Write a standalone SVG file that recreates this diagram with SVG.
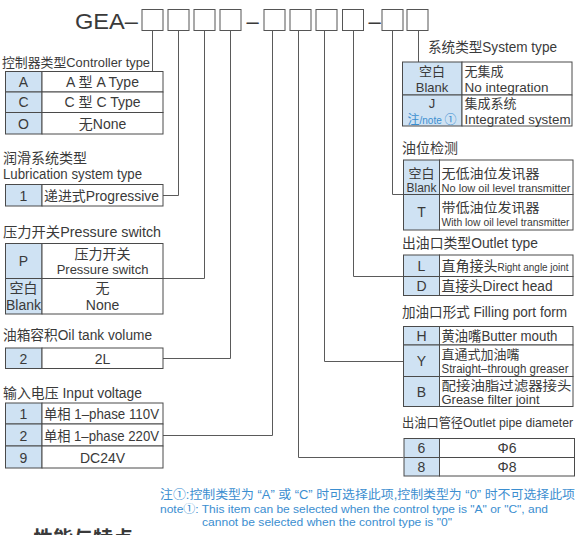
<svg xmlns="http://www.w3.org/2000/svg" width="586" height="535" viewBox="0 0 586 535">
<style>
.t{font-family:"Liberation Sans","Noto Sans CJK SC",sans-serif;fill:#3a3a3a;font-size:14px}
.c{text-anchor:middle}
.s12{font-size:12px}
.s11{font-size:11px}
.s13{font-size:13px}
.b{fill:#3b8ed0}
.code{fill:#cfe2f3;stroke:#4a4a4a;stroke-width:1}
.desc{fill:#fff;stroke:#4a4a4a;stroke-width:1}
.box{fill:#fff;stroke:#555;stroke-width:1}
.ln{fill:none;stroke:#5a5a5a;stroke-width:1}
</style>
<rect width="586" height="535" fill="#fff"/>

<g id="header">
<text class="t" x="75" y="29" style="font-size:22px" textLength="63" lengthAdjust="spacingAndGlyphs">GEA–</text>
<rect class="box" x="142" y="9.5" width="21" height="21"/>
<rect class="box" x="168" y="9.5" width="21" height="21"/>
<rect class="box" x="194" y="9.5" width="21" height="21"/>
<rect class="box" x="220" y="9.5" width="21" height="21"/>
<text class="t c" x="252.5" y="29" style="font-size:22px">–</text>
<rect class="box" x="264" y="9.5" width="21" height="21"/>
<rect class="box" x="290" y="9.5" width="21" height="21"/>
<rect class="box" x="316" y="9.5" width="21" height="21"/>
<rect class="box" x="342.5" y="9.5" width="21" height="21"/>
<text class="t c" x="374.5" y="29" style="font-size:22px">–</text>
<rect class="box" x="382" y="9.5" width="21" height="21"/>
<rect class="box" x="407" y="9.5" width="21" height="21"/>
</g>

<g id="connectors">
<path class="ln" d="M152.5,30.5 V71"/>
<path class="ln" d="M178.5,30.5 V195.5 H163"/>
<path class="ln" d="M204.5,30.5 V278.5 H163"/>
<path class="ln" d="M230.5,30.5 V358.5 H163"/>
<path class="ln" d="M272.5,30.5 V435.5 H163"/>
<path class="ln" d="M298.5,30.5 V457.5 H403"/>
<path class="ln" d="M324.5,30.5 V361.5 H403"/>
<path class="ln" d="M353.5,30.5 V276.5 H403"/>
<path class="ln" d="M392.5,30.5 V194.5 H403"/>
<path class="ln" d="M418.5,30.5 V62"/>
</g>

<g id="controller-type">
<text class="t s13" x="2" y="66.5" textLength="148" lengthAdjust="spacingAndGlyphs">控制器类型Controller type</text>
<rect class="code" x="5.5" y="71.5" width="36.5" height="20.5"/>
<rect class="desc" x="42" y="71.5" width="121" height="20.5"/>
<rect class="code" x="5.5" y="92" width="36.5" height="20.5"/>
<rect class="desc" x="42" y="92" width="121" height="20.5"/>
<rect class="code" x="5.5" y="112.5" width="36.5" height="21.5"/>
<rect class="desc" x="42" y="112.5" width="121" height="21.5"/>
<text class="t c" x="23.5" y="86.5">A</text>
<text class="t c" x="102.5" y="86.5">A 型 A Type</text>
<text class="t c" x="23.5" y="107">C</text>
<text class="t c" x="102.5" y="107">C 型 C Type</text>
<text class="t c" x="23.5" y="128.5">O</text>
<text class="t c" x="102.5" y="128.5">无None</text>
</g>

<g id="lubrication-system-type">
<text class="t" x="3" y="163">润滑系统类型</text>
<text class="t" x="3" y="178.5" textLength="139" lengthAdjust="spacingAndGlyphs">Lubrication system type</text>
<rect class="code" x="5.5" y="184.5" width="36.5" height="21.5"/>
<rect class="desc" x="42" y="184.5" width="121" height="21.5"/>
<text class="t c" x="23.5" y="200.5">1</text>
<text class="t" x="44" y="200.5" textLength="115" lengthAdjust="spacingAndGlyphs">递进式Progressive</text>
</g>

<g id="pressure-switch">
<text class="t" x="3" y="237" textLength="158" lengthAdjust="spacingAndGlyphs">压力开关Pressure switch</text>
<rect class="code" x="5.5" y="243.5" width="36.5" height="35"/>
<rect class="desc" x="42" y="243.5" width="121" height="35"/>
<rect class="code" x="5.5" y="278.5" width="36.5" height="35.5"/>
<rect class="desc" x="42" y="278.5" width="121" height="35.5"/>
<text class="t c" x="23.5" y="266">P</text>
<text class="t c" x="102.5" y="259">压力开关</text>
<text class="t c s13" x="102.5" y="274">Pressure switch</text>
<text class="t c" x="23.5" y="293">空白</text>
<text class="t c" x="23.5" y="309.5">Blank</text>
<text class="t c" x="102.5" y="293">无</text>
<text class="t c" x="102.5" y="309.5">None</text>
</g>

<g id="oil-tank-volume">
<text class="t" x="3" y="340" textLength="149" lengthAdjust="spacingAndGlyphs">油箱容积Oil tank volume</text>
<rect class="code" x="5.5" y="348" width="36.5" height="20.5"/>
<rect class="desc" x="42" y="348" width="121" height="20.5"/>
<text class="t c" x="23.5" y="363.5">2</text>
<text class="t c" x="102.5" y="363.5">2L</text>
</g>

<g id="input-voltage">
<text class="t" x="3" y="397.5" textLength="139" lengthAdjust="spacingAndGlyphs">输入电压 Input voltage</text>
<rect class="code" x="5.5" y="403" width="36.5" height="21"/>
<rect class="desc" x="42" y="403" width="121" height="21"/>
<rect class="code" x="5.5" y="424" width="36.5" height="22"/>
<rect class="desc" x="42" y="424" width="121" height="22"/>
<rect class="code" x="5.5" y="446" width="36.5" height="22"/>
<rect class="desc" x="42" y="446" width="121" height="22"/>
<text class="t c" x="23.5" y="419">1</text>
<text class="t" x="44" y="419" textLength="115" lengthAdjust="spacingAndGlyphs">单相 1–phase 110V</text>
<text class="t c" x="23.5" y="440.5">2</text>
<text class="t" x="44" y="440.5" textLength="115" lengthAdjust="spacingAndGlyphs">单相 1–phase 220V</text>
<text class="t c" x="23.5" y="462.5">9</text>
<text class="t c" x="102.5" y="462.5">DC24V</text>
</g>

<g id="system-type">
<text class="t" x="428" y="51.5" textLength="129" lengthAdjust="spacingAndGlyphs">系统类型System type</text>
<rect class="code" x="402.5" y="62" width="59.5" height="33"/>
<rect class="desc" x="462" y="62" width="110" height="33"/>
<rect class="code" x="402.5" y="95" width="59.5" height="31"/>
<rect class="desc" x="462" y="95" width="110" height="31"/>
<text class="t c s13" x="432" y="75.5">空白</text>
<text class="t c s13" x="432" y="91.5">Blank</text>
<text class="t s13" x="464.5" y="75.5">无集成</text>
<text class="t s13" x="464.5" y="91.5" textLength="84" lengthAdjust="spacingAndGlyphs">No integration</text>
<text class="t c s13" x="432" y="108">J</text>
<text class="t c b" x="432" y="123.5"><tspan style="font-size:12px">注</tspan><tspan style="font-size:10px">/note </tspan><tspan style="font-size:12px">①</tspan></text>
<text class="t s13" x="464.5" y="108">集成系统</text>
<text class="t s13" x="464.5" y="123.5" textLength="106" lengthAdjust="spacingAndGlyphs">Integrated system</text>
</g>

<g id="oil-level-detection">
<text class="t" x="402" y="153">油位检测</text>
<rect class="code" x="403.5" y="160" width="36" height="34.5"/>
<rect class="desc" x="439.5" y="160" width="133.5" height="34.5"/>
<rect class="code" x="403.5" y="194.5" width="36" height="35.5"/>
<rect class="desc" x="439.5" y="194.5" width="133.5" height="35.5"/>
<text class="t c s13" x="421.5" y="177.5">空白</text>
<text class="t c s12" x="421.5" y="191.5">Blank</text>
<text class="t s13" x="441.5" y="177.5" textLength="98" lengthAdjust="spacingAndGlyphs">无低油位发讯器</text>
<text class="t s11" x="441.5" y="191.5" textLength="129" lengthAdjust="spacingAndGlyphs">No low oil level transmitter</text>
<text class="t c" x="421.5" y="217">T</text>
<text class="t s13" x="441.5" y="212" textLength="98" lengthAdjust="spacingAndGlyphs">带低油位发讯器</text>
<text class="t s11" x="441.5" y="226" textLength="128" lengthAdjust="spacingAndGlyphs">With low oil level transmitter</text>
</g>

<g id="outlet-type">
<text class="t" x="402" y="248" textLength="136" lengthAdjust="spacingAndGlyphs">出油口类型Outlet type</text>
<rect class="code" x="403.5" y="255" width="36" height="21.5"/>
<rect class="desc" x="439.5" y="255" width="133.5" height="21.5"/>
<rect class="code" x="403.5" y="276.5" width="36" height="19"/>
<rect class="desc" x="439.5" y="276.5" width="133.5" height="19"/>
<text class="t c" x="421.5" y="270.5">L</text>
<text class="t" x="441.5" y="270.5"><tspan>直角接头</tspan><tspan style="font-size:11px" textLength="71" lengthAdjust="spacingAndGlyphs">Right angle joint</tspan></text>
<text class="t c" x="421.5" y="291">D</text>
<text class="t" x="441.5" y="291" textLength="111" lengthAdjust="spacingAndGlyphs">直接头Direct head</text>
</g>

<g id="filling-port-form">
<text class="t" x="402" y="316.5" textLength="165" lengthAdjust="spacingAndGlyphs">加油口形式 Filling port form</text>
<rect class="code" x="403.5" y="326.5" width="36" height="18.5"/>
<rect class="desc" x="439.5" y="326.5" width="133.5" height="18.5"/>
<rect class="code" x="403.5" y="345" width="36" height="31.5"/>
<rect class="desc" x="439.5" y="345" width="133.5" height="31.5"/>
<rect class="code" x="403.5" y="376.5" width="36" height="30"/>
<rect class="desc" x="439.5" y="376.5" width="133.5" height="30"/>
<text class="t c" x="421.5" y="340.5">H</text>
<text class="t" x="441.5" y="340.5" textLength="116" lengthAdjust="spacingAndGlyphs">黄油嘴Butter mouth</text>
<text class="t c" x="421.5" y="366">Y</text>
<text class="t s13" x="441.5" y="359">直通式加油嘴</text>
<text class="t s12" x="441.5" y="372.5" textLength="127" lengthAdjust="spacingAndGlyphs">Straight–through greaser</text>
<text class="t c" x="421.5" y="397">B</text>
<text class="t s13" x="441.5" y="389.5" textLength="130" lengthAdjust="spacingAndGlyphs">配接油脂过滤器接头</text>
<text class="t s13" x="441.5" y="404" textLength="98" lengthAdjust="spacingAndGlyphs">Grease filter joint</text>
</g>

<g id="outlet-pipe-diameter">
<text class="t s13" x="402" y="426.5" textLength="171" lengthAdjust="spacingAndGlyphs">出油口管径Outlet pipe diameter</text>
<rect class="code" x="404" y="438.5" width="35.5" height="19"/>
<rect class="desc" x="439.5" y="438.5" width="135" height="19"/>
<rect class="code" x="404" y="457.5" width="35.5" height="18.5"/>
<rect class="desc" x="439.5" y="457.5" width="135" height="18.5"/>
<text class="t c" x="421.5" y="453">6</text>
<text class="t c" x="507" y="453">Φ6</text>
<text class="t c" x="421.5" y="471.5">8</text>
<text class="t c" x="507" y="471.5">Φ8</text>
</g>

<g id="notes">
<text class="t s12 b" x="160" y="499" textLength="415" lengthAdjust="spacingAndGlyphs">注①:控制类型为 “A” 或 “C” 时可选择此项,控制类型为 “0” 时不可选择此项</text>
<text class="t s11 b" x="160" y="512.5" textLength="388" lengthAdjust="spacingAndGlyphs">note①: This item can be selected when the control type is "A" or "C", and</text>
<text class="t s11 b" x="202" y="526" textLength="250" lengthAdjust="spacingAndGlyphs">cannot be selected when the control type is "0"</text>
</g>

<text class="t" x="33" y="546" style="font-size:20px;font-weight:bold">性能与特点</text>
</svg>
